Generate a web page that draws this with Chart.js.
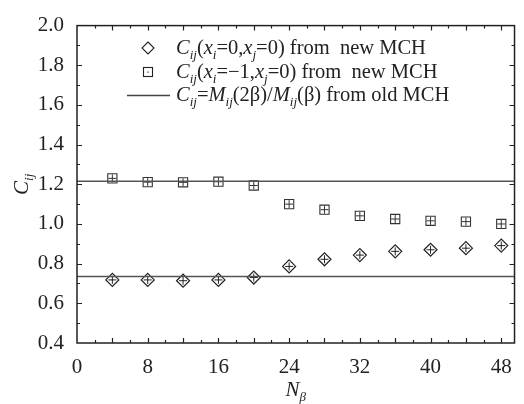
<!DOCTYPE html>
<html>
<head>
<meta charset="utf-8">
<script src="https://cdn.jsdelivr.net/npm/chart.js@4.4.1/dist/chart.umd.min.js"></script>
<style>
  html, body { margin: 0; padding: 0; background: #fff; }
  canvas { display: block; }
</style>
</head>
<body>
<canvas id="c" width="524" height="404"></canvas>
<script>
// values
const nBeta = [4, 8, 12, 16, 20, 24, 28, 32, 36, 40, 44, 48];
const cijNewXi0 = [0.718, 0.718, 0.714, 0.718, 0.730, 0.786, 0.822, 0.843, 0.862, 0.870, 0.878, 0.891];
const cijNewXiM1 = [1.230, 1.211, 1.210, 1.213, 1.194, 1.100, 1.072, 1.041, 1.025, 1.016, 1.012, 1.000];
const cijOldLevels = [0.735, 1.215];
const xRange = [0, 49.5];
const yRange = [0.4, 2.0];

const SERIF = 'Liberation Serif';
const INK = '#222';

const pts = (ys) => nBeta.map((x, i) => ({ x: x, y: ys[i] }));
const flat = (y) => xRange.map(x => ({ x: x, y: y }));

// text with italic letters and subscripts
function fontFor(s, size) {
  if (s === 'i') return `italic ${size}px ${SERIF}`;
  if (s === 'sub') return `italic ${Math.round(size * 0.64)}px ${SERIF}`;
  return `${size}px ${SERIF}`;
}
function richWidth(ctx, parts, size) {
  let w = 0;
  parts.forEach(([t, s]) => {
    ctx.font = fontFor(s, size);
    w += ctx.measureText(t).width;
  });
  return w;
}
function drawRich(ctx, parts, x, y, size) {
  parts.forEach(([t, s]) => {
    ctx.font = fontFor(s, size);
    const dy = s === 'sub' ? size * 0.26 : 0;
    ctx.fillText(t, x, y + dy);
    x += ctx.measureText(t).width;
  });
}

const frame = {
  id: 'frame',
  afterDatasetsDraw(chart) {
    const { ctx, chartArea: a, scales } = chart;
    ctx.save();
    ctx.strokeStyle = INK;
    ctx.lineWidth = 1.5;
    ctx.strokeRect(a.left, a.top, a.right - a.left, a.bottom - a.top);
    ctx.lineWidth = 1.2;
    ctx.beginPath();
    for (let v = 2; v < xRange[1]; v += 2) {
      const px = Math.round(scales.x.getPixelForValue(v)) + 0.5;
      const len = v % 4 === 0 ? 5 : 3;
      ctx.moveTo(px, a.bottom); ctx.lineTo(px, a.bottom - len);
      ctx.moveTo(px, a.top); ctx.lineTo(px, a.top + len);
    }
    for (let k = 5; k < 20; k++) {
      const py = Math.round(scales.y.getPixelForValue(k / 10)) + 0.5;
      const len = k % 2 === 0 ? 5 : 3;
      ctx.moveTo(a.left, py); ctx.lineTo(a.left + len, py);
      ctx.moveTo(a.right, py); ctx.lineTo(a.right - len, py);
    }
    ctx.stroke();
    ctx.restore();
  },
  afterDraw(chart) {
    const { ctx, chartArea: a } = chart;
    ctx.save();
    ctx.fillStyle = INK;
    ctx.strokeStyle = INK;
    ctx.textBaseline = 'alphabetic';

    // axis titles
    const xt = [['N', 'i'], ['β', 'sub']];
    const xw = richWidth(ctx, xt, 21);
    drawRich(ctx, xt, (a.left + a.right) / 2 - xw / 2, 396, 21);
    const yt = [['C', 'i'], ['ij', 'sub']];
    const yw = richWidth(ctx, yt, 21);
    ctx.save();
    ctx.translate(28, (a.top + a.bottom) / 2);
    ctx.rotate(-Math.PI / 2);
    drawRich(ctx, yt, -yw / 2, 0, 21);
    ctx.restore();

    // legend
    const fs = 20.5, tx = 176;
    ctx.lineWidth = 1.1;
    ctx.beginPath();
    ctx.moveTo(148, 42); ctx.lineTo(154, 48); ctx.lineTo(148, 54); ctx.lineTo(142, 48); ctx.closePath();
    ctx.stroke();
    ctx.strokeRect(143.5, 67.5, 9, 9);
    ctx.fillRect(147.5, 71.5, 1.2, 1.2);
    ctx.strokeStyle = '#444';
    ctx.lineWidth = 1.5;
    ctx.beginPath(); ctx.moveTo(127, 95.5); ctx.lineTo(170, 95.5); ctx.stroke();

    drawRich(ctx, [['C', 'i'], ['ij', 'sub'], ['(', 'n'], ['x', 'i'], ['i', 'sub'], ['=0,', 'n'], ['x', 'i'], ['j', 'sub'], ['=0) from  new MCH', 'n']], tx, 54, fs);
    drawRich(ctx, [['C', 'i'], ['ij', 'sub'], ['(', 'n'], ['x', 'i'], ['i', 'sub'], ['=\u2212', 'n'], ['1,', 'n'], ['x', 'i'], ['j', 'sub'], ['=0) from  new MCH', 'n']], tx, 78, fs);
    drawRich(ctx, [['C', 'i'], ['ij', 'sub'], ['=', 'n'], ['M', 'i'], ['ij', 'sub'], ['(2β)/', 'n'], ['M', 'i'], ['ij', 'sub'], ['(β) from old MCH', 'n']], tx, 101, fs);
    ctx.restore();
  }
};

new Chart(document.getElementById('c'), {
  type: 'scatter',
  data: {
    datasets: [
      { data: flat(cijOldLevels[0]), type: 'line', borderColor: '#555', borderWidth: 1.5, pointRadius: 0 },
      { data: flat(cijOldLevels[1]), type: 'line', borderColor: '#555', borderWidth: 1.5, pointRadius: 0 },
      { data: pts(cijNewXi0), pointStyle: 'rectRot', radius: 6.5, borderColor: INK, backgroundColor: 'rgba(0,0,0,0)', borderWidth: 1.2 },
      { data: pts(cijNewXi0), pointStyle: 'cross', radius: 4, borderColor: INK, borderWidth: 1 },
      { data: pts(cijNewXiM1), pointStyle: 'rect', radius: 6.5, borderColor: '#333', backgroundColor: 'rgba(0,0,0,0)', borderWidth: 1.1 },
      { data: pts(cijNewXiM1), pointStyle: 'cross', radius: 4, borderColor: '#333', borderWidth: 1 }
    ]
  },
  options: {
    responsive: false,
    animation: false,
    devicePixelRatio: 1,
    layout: { padding: { top: 13, right: 1, left: 0, bottom: 0 } },
    plugins: { legend: { display: false }, tooltip: { enabled: false } },
    scales: {
      x: {
        type: 'linear', min: xRange[0], max: xRange[1],
        afterFit: (s) => { s.height = 61; },
        grid: { display: false, drawTicks: false },
        border: { display: false },
        ticks: { stepSize: 8, includeBounds: false, autoSkip: false, maxRotation: 0,
          padding: 12, color: INK, font: { family: SERIF, size: 21 } }
      },
      y: {
        min: yRange[0], max: yRange[1],
        afterFit: (s) => { s.width = 77; },
        grid: { display: false, drawTicks: false },
        border: { display: false },
        ticks: { stepSize: 0.2, padding: 13, color: INK, font: { family: SERIF, size: 21 },
          callback: (v) => v.toFixed(1) }
      }
    }
  },
  plugins: [frame]
});
</script>
</body>
</html>
